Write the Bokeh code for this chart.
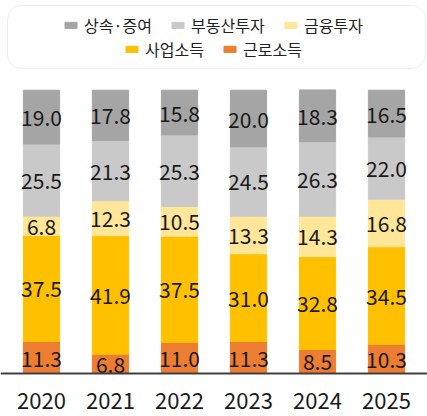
from bokeh.plotting import figure
from bokeh.models import ColumnDataSource, Legend, LegendItem, BoxAnnotation, Span, FactorRange, Range1d
from bokeh.core.properties import value
from bokeh.embed import file_html
from bokeh.resources import INLINE

years = ["2020", "2021", "2022", "2023", "2024", "2025"]
labor = [11.3, 6.8, 11.0, 11.3, 8.5, 10.3]          # 근로소득
business = [37.5, 41.9, 37.5, 31.0, 32.8, 34.5]     # 사업소득
finance = [6.8, 12.3, 10.5, 13.3, 14.3, 16.8]       # 금융투자
realestate = [25.5, 21.3, 25.3, 24.5, 26.3, 22.0]   # 부동산투자
gift = [19.0, 17.8, 15.8, 20.0, 18.3, 16.5]         # 상속·증여

keys = ["labor", "business", "finance", "realestate", "gift"]
names = ["근로소득", "사업소득", "금융투자", "부동산투자", "상속·증여"]
colors = ["#ED7D31", "#FFC000", "#FFE699", "#C9C9C9", "#A5A5A5"]
series = [labor, business, finance, realestate, gift]

FONT = "Noto Sans CJK KR"

source = ColumnDataSource(data=dict(year=years, labor=labor, business=business,
                                    finance=finance, realestate=realestate, gift=gift))

# label positions = middle of each stacked segment
lx, ly, lt = [], [], []
for i, yr in enumerate(years):
    base = 0
    for s in series:
        lx.append(yr)
        ly.append(base + s[i] / 2)
        lt.append("%.1f" % s[i])
        base += s[i]
labels = ColumnDataSource(data=dict(x=lx, y=ly, text=lt))

p = figure(x_range=FactorRange(*years, range_padding=0.094, range_padding_units="absolute"),
           y_range=Range1d(-15.19, 131.8),
           width=427, height=416, output_backend="svg", toolbar_location=None,
           min_border=0, x_axis_location=None, y_axis_location=None,
           outline_line_color=None)
p.grid.visible = False

rs = p.vbar_stack(keys, x="year", width=0.525, color=colors, source=source)

p.text(x="x", y="y", text="text", source=labels, text_align="center", text_baseline="middle",
       y_offset=1, text_font=value(FONT), text_font_size="21px", text_color="#1a1a1a")

# axis line + year labels
p.add_layout(Span(location=0, dimension="width", line_color="#404040", line_width=2))
p.text(x=years, y=[0] * len(years), text=years, y_offset=27, text_align="center",
       text_baseline="middle", text_font=value(FONT), text_font_size="22px",
       text_color="#1a1a1a")

# legend frame
box = BoxAnnotation(left=7, right=425, top=411, bottom=348,
                    left_units="screen", right_units="screen",
                    top_units="screen", bottom_units="screen",
                    fill_color="white", fill_alpha=1, line_color="#C8C8C8",
                    line_width=1, border_radius=14)
p.add_layout(box)

# legend entries: top row gift, realestate, finance; bottom row business, labor
spots = [(4, 63, 379), (3, 170, 379), (2, 283, 379), (1, 124, 355), (0, 222, 355)]
for idx, sx, sy in spots:
    leg = Legend(items=[LegendItem(label=names[idx], renderers=[rs[idx]])],
                 location=(sx, sy), orientation="horizontal",
                 glyph_width=15, glyph_height=8, label_standoff=6,
                 label_text_font=FONT, label_text_font_size="16px",
                 label_text_color="#222222", padding=0, margin=0,
                 border_line_color=None, background_fill_alpha=0)
    p.add_layout(leg)

open("out.html", "w").write(file_html(p, INLINE))
